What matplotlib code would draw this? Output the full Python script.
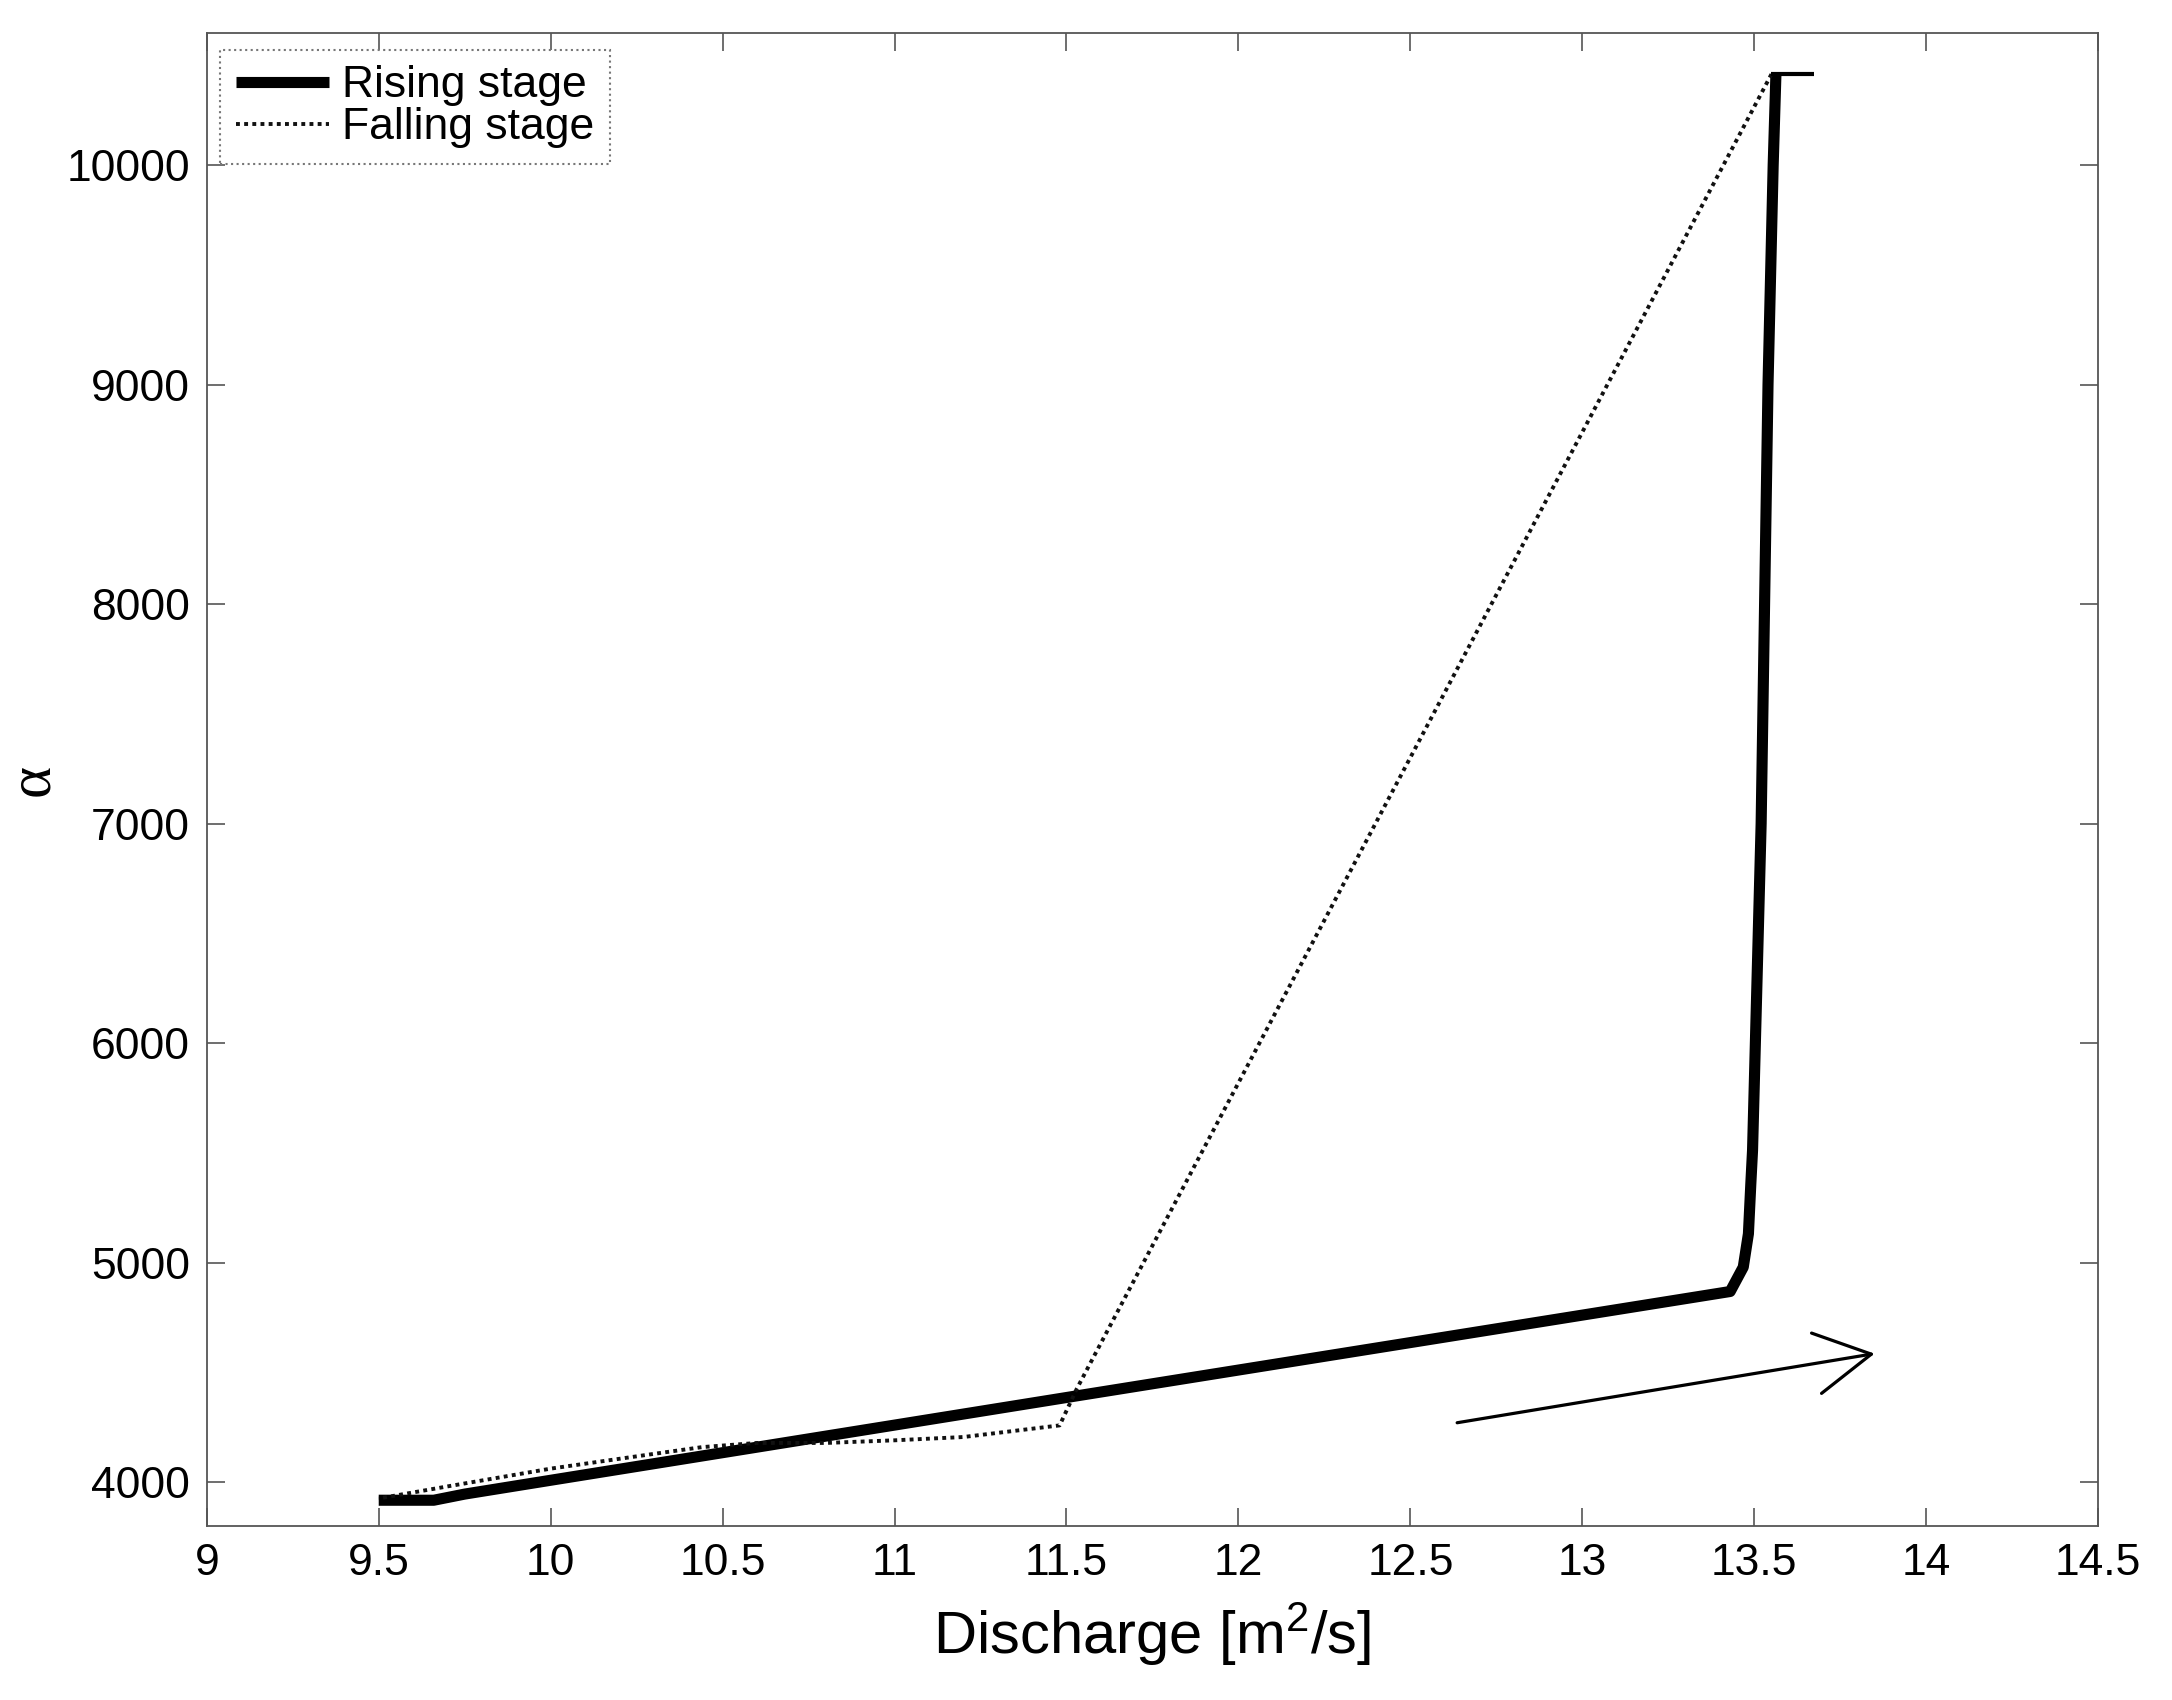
import matplotlib
matplotlib.use('Agg')
import matplotlib.pyplot as plt
from matplotlib.ticker import FormatStrFormatter

# ── data ──────────────────────────────────────────────────────
rising_q = [9.50, 9.66, 9.75, 10.0, 11.5, 13.43, 13.468, 13.483, 13.49,
            13.495, 13.52, 13.54, 13.555, 13.563]
rising_a = [3917, 3917, 3945, 4008, 4385, 4868, 4979, 5131, 5359,
            5511, 7000, 9000, 10000, 10414]

falling_q = [13.55, 11.53, 11.48, 11.2, 11.0, 10.8, 10.6, 10.44, 10.29,
             10.0, 9.7, 9.5]
falling_a = [10414, 4425, 4258, 4205, 4190, 4178, 4178, 4159, 4126,
             4061, 3980, 3925]

peak_q = [13.55, 13.675]
peak_a = [10414, 10414]

arrow_tail = (12.636, 4270)
arrow_head = (13.85, 4585)

xticks = [9, 9.5, 10, 10.5, 11, 11.5, 12, 12.5, 13, 13.5, 14, 14.5]
yticks = [4000, 5000, 6000, 7000, 8000, 9000, 10000]

# ── style ─────────────────────────────────────────────────────
plt.rcParams.update({
    'font.family': ['Liberation Sans', 'DejaVu Sans'],
    'mathtext.default': 'regular',
})
SPINE = '#555555'

fig = plt.figure(figsize=(21.72, 17), dpi=100, facecolor='white')
ax = fig.add_axes([0.0952, 0.1024, 0.8708, 0.878])

ax.plot(rising_q, rising_a, color='black', lw=8, solid_joinstyle='round',
        solid_capstyle='butt', label='Rising stage')
ax.plot(falling_q, falling_a, color='#111111', lw=2.8, ls=(0, (1, 1.1)),
        label='Falling stage')
ax.plot(peak_q, peak_a, color='black', lw=3, solid_capstyle='butt')

ax.annotate('', xy=arrow_head, xytext=arrow_tail,
            arrowprops=dict(arrowstyle='->,head_length=2.0,head_width=1.1',
                            lw=2.3, color='black', mutation_scale=20,
                            shrinkA=0, shrinkB=0))

ax.set_xlim(9, 14.5)
ax.set_ylim(3800, 10600)
ax.set_xticks(xticks)
ax.set_yticks(yticks)
ax.xaxis.set_major_formatter(FormatStrFormatter('%g'))
ax.tick_params(direction='in', length=13, width=1.2, color=SPINE,
               top=True, right=True, labelsize=32, pad=12)
for sp in ax.spines.values():
    sp.set_color(SPINE)
    sp.set_linewidth(1.3)

ax.set_xlabel('Discharge [m$^{2}$/s]', fontsize=43)
ax.xaxis.set_label_coords(0.5, -0.05)
ax.set_ylabel('α', fontsize=44, family=['Liberation Serif', 'DejaVu Serif'])
ax.yaxis.set_label_coords(-0.077, 0.5)

leg = ax.legend(loc='upper left', bbox_to_anchor=(0.007, 0.989),
                borderaxespad=0, fontsize=32, handlelength=2.1,
                handletextpad=0.3, labelspacing=0.02, borderpad=0.35,
                fancybox=False, framealpha=1)
leg.get_frame().set_edgecolor('#777777')
leg.get_frame().set_linestyle(':')
leg.get_frame().set_linewidth(1.5)

plt.savefig('out.png', dpi=100, facecolor='white')
